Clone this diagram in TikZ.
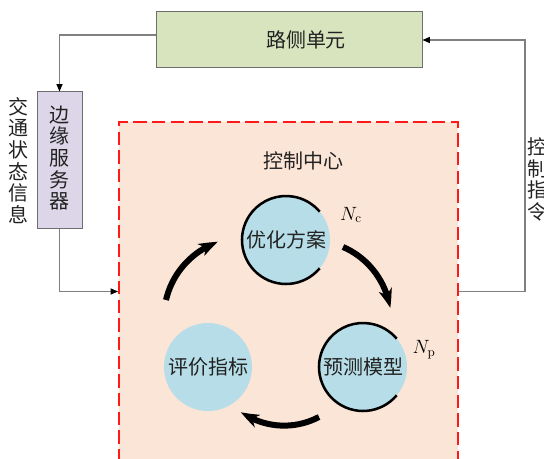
\documentclass[tikz,border=0pt]{standalone}
\usepackage{fontspec}
\newfontfamily\cjk{Noto Sans CJK SC}
\usetikzlibrary{arrows.meta,calc,bending}
\newlength\pxu \setlength\pxu{0.75pt}
\definecolor{boxgreen}{HTML}{D7E4BD}
\definecolor{boxpurple}{HTML}{DDD6E8}
\definecolor{bgpeach}{HTML}{FBE5D6}
\definecolor{circblue}{HTML}{B7DEE8}
\definecolor{edgegray}{HTML}{6E6E6E}
\definecolor{linegray}{HTML}{808080}
\definecolor{dashred}{HTML}{FF1A1A}
\definecolor{txt}{HTML}{222222}
\begin{document}
\begin{tikzpicture}[x=0.75pt,y=-0.75pt,
  cn/.style={font=\cjk\fontsize{15}{16.2}\selectfont, text=txt, inner sep=0pt},
  vtext/.style={cn, align=center},
  unitbox/.style={draw=edgegray, line width=0.75pt, inner sep=0pt},
  conn/.style={draw=linegray, line width=0.8pt, -{Triangle[length=5.5pt,width=4.5pt,color=black]}},
  stage/.style={cn, circle, fill=circblue, minimum size=88\pxu, inner sep=0pt},
  ring/.style={line width=1.9pt, black},
  cyc/.style={line width=4.5pt, black, -{Stealth[length=14pt,width=10pt,inset=4pt,bend]}},
  nlab/.style={font=\fontsize{14}{16}\selectfont, inner sep=0pt}]
\clip (0,0) rectangle (544,459);
\node[draw=dashred, fill=bgpeach, dash pattern=on 10pt off 4pt, line width=1.5pt,
      minimum width=339\pxu, minimum height=339\pxu, inner sep=0pt] (center) at (288.5,291.5) {};
\node[unitbox, fill=boxgreen, minimum width=266\pxu, minimum height=56\pxu] (road) at (289,40) {};
\node[cn] (roadtxt) at (306,40) {路侧单元};
\node[unitbox, fill=boxpurple, minimum width=45\pxu, minimum height=137\pxu] (edge) at (59.5,160.5) {};
\node[vtext] (edgetxt) at (59.5,158) {边\\缘\\服\\务\\器};
\node[vtext] (traffic) at (18,160.5) {交\\通\\状\\态\\信\\息};
\node[vtext] (cmd) at (537,179.5) {控\\制\\指\\令};
\node[cn] (ctrl) at (303.5,161) {控制中心};

\node[stage] (opt) at (286,240) {优化方案};
\node[stage] (pred) at (363,367) {预测模型};
\node[stage] (eval) at (208,367) {评价指标};

\draw[ring] (opt.center) ++(40:44) arc[start angle=40, end angle=320, radius=44];
\draw[ring] (pred.center) ++(40:44) arc[start angle=40, end angle=320, radius=44];

\node[nlab] (nc) at (351,215) {$N_{\mathrm{c}}$};
\node[nlab] (np) at (424,350) {$N_{\mathrm{p}}$};

\coordinate (a1s) at (343,247); \coordinate (a1e) at (390,308);
\coordinate (a2s) at (319,417); \coordinate (a2e) at (241,412);
\coordinate (a3s) at (166,300); \coordinate (a3e) at (218,242);
\draw[cyc] (a1s) .. controls (368,257.7) and (386,281.2) .. (a1e);
\draw[cyc] (a2s) .. controls (294.2,430.1) and (264,428.2) .. (a2e);
\draw[cyc] (a3s) .. controls (172.3,273) and (191.9,251.2) .. (a3e);

\draw[conn] ([yshift=3.75pt]road.west) -| (edge.north);
\draw[conn] (edge.south) |- (center.west);
\draw[conn] (center.east) -- ++(66,0) |- (road.east);
\end{tikzpicture}
\end{document}
